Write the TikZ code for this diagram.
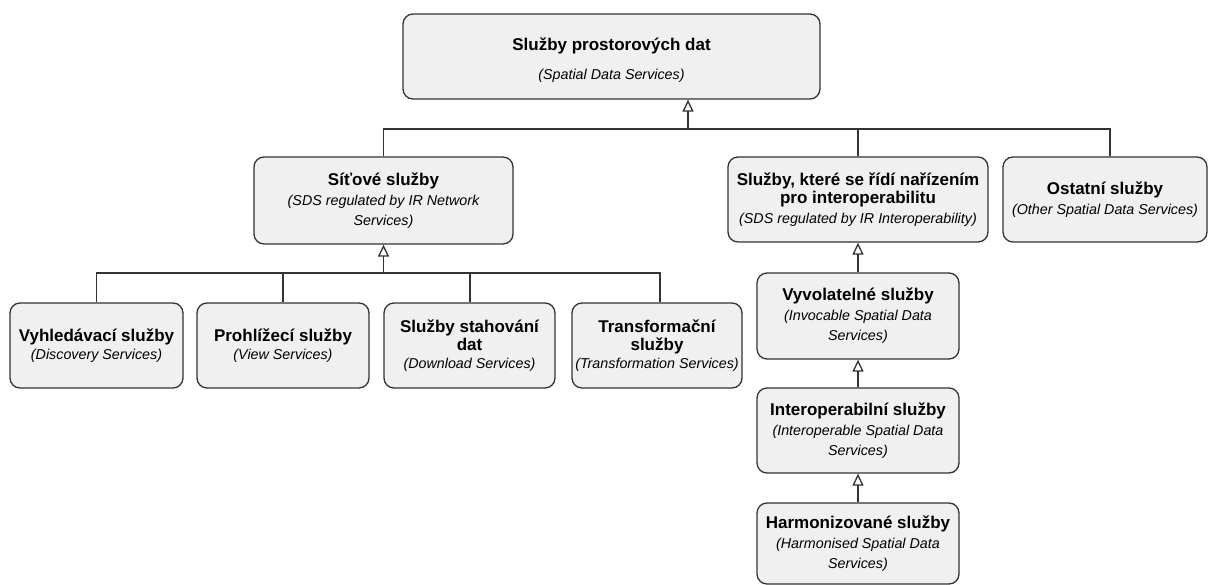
\documentclass[tikz,border=0pt]{standalone}
\usepackage{fontspec}
\setmainfont{Liberation Sans}
\usetikzlibrary{arrows.meta}
\definecolor{boxfill}{HTML}{F0F0F0}
\definecolor{boxline}{HTML}{333333}
\newcommand\TL[1]{{\fontsize{17}{17.5}\selectfont\bfseries\hbox to\hsize{\hss#1\hss}}}
\newcommand\SL[1]{{\fontsize{14.3}{20}\selectfont\itshape\hbox to\hsize{\hss#1\hss}}}
\newcommand\SLx[1]{{\fontsize{14.3}{18}\selectfont\itshape\hbox to\hsize{\hss#1\hss}}}
\newcommand\stack[2]{\vbox{\hsize=#1pt\relax #2}}
\tikzset{
  svcbox/.style={draw=boxline, fill=boxfill, rounded corners=10pt, line width=1.3pt,
    inner sep=0pt},
  conn/.style={draw=boxline, line width=1.3pt},
  gen/.style={conn, -{Triangle[open, length=12pt, width=11pt, fill=white]}}
}
\begin{document}
\begin{tikzpicture}[x=1pt, y=-1pt]
\useasboundingbox (0,0) rectangle (1208,585);
% nodes
\node[svcbox, minimum width=417pt, minimum height=85pt] (top) at (611.5,56.5)
  {\stack{400}{\kern8pt\TL{Služby prostorových dat}\kern9pt\SL{(Spatial Data Services)}}};
\node[svcbox, minimum width=259pt, minimum height=87pt] (sit) at (383.5,200.5)
  {\stack{250}{\TL{Síťové služby}\SL{(SDS regulated by IR Network}\SL{Services)}}};
\node[svcbox, minimum width=260pt, minimum height=85pt] (reg) at (858,199.5)
  {\stack{250}{\TL{Služby, které se řídí nařízením}\TL{pro interoperabilitu}\SL{(SDS regulated by IR Interoperability)}}};
\node[svcbox, minimum width=204pt, minimum height=85pt] (ost) at (1105,199.5)
  {\stack{196}{\TL{Ostatní služby}\SL{(Other Spatial Data Services)}}};
\node[svcbox, minimum width=173pt, minimum height=85pt] (vyh) at (96.5,345.5)
  {\stack{165}{\TL{Vyhledávací služby}\SLx{(Discovery Services)}}};
\node[svcbox, minimum width=172pt, minimum height=85pt] (pro) at (283,345.5)
  {\stack{165}{\TL{Prohlížecí služby}\SLx{(View Services)}}};
\node[svcbox, minimum width=171pt, minimum height=85pt] (sta) at (469.5,345.5)
  {\stack{165}{\TL{Služby stahování}\TL{dat}\SLx{(Download Services)}}};
\node[svcbox, minimum width=170pt, minimum height=85pt] (tra) at (657,345.5)
  {\stack{165}{\TL{Transformační}\TL{služby}\SLx{(Transformation Services)}}};
\node[svcbox, minimum width=202pt, minimum height=86pt] (vyv) at (858,316)
  {\stack{195}{\TL{Vyvolatelné služby}\SL{(Invocable Spatial Data}\SL{Services)}}};
\node[svcbox, minimum width=202pt, minimum height=85pt] (int) at (858,430.5)
  {\stack{195}{\TL{Interoperabilní služby}\SL{(Interoperable Spatial Data}\SL{Services)}}};
\node[svcbox, minimum width=202pt, minimum height=81pt] (har) at (858,543.5)
  {\stack{195}{\TL{Harmonizované služby}\SL{(Harmonised Spatial Data}\SL{Services)}}};
% junctions
\coordinate (jtop) at (688,129);
\coordinate (jsit) at (383.5,273);
% connectors
\draw[conn] (sit.north) |- (jtop);
\draw[conn] (reg.north) |- (jtop);
\draw[conn] ([xshift=5pt]ost.north) |- (jtop);
\draw[gen] (jtop) -- (jtop |- top.south);
\draw[conn] (vyh.north) |- (jsit);
\draw[conn] (pro.north) |- (jsit);
\draw[conn] ([xshift=0.5pt]sta.north) |- (jsit);
\draw[conn] ([xshift=3pt]tra.north) |- (jsit);
\draw[gen] (jsit) -- (sit.south);
\draw[gen] (vyv.north) -- (reg.south);
\draw[gen] (int.north) -- (vyv.south);
\draw[gen] (har.north) -- (int.south);
\end{tikzpicture}
\end{document}
